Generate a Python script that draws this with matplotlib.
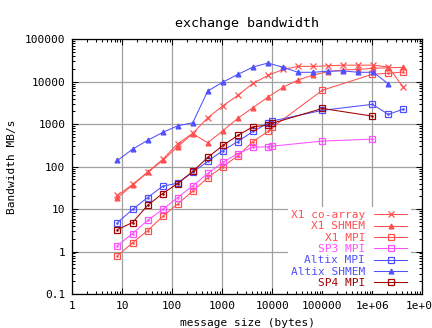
import matplotlib
matplotlib.use("Agg")
import matplotlib.pyplot as plt
from matplotlib.ticker import LogLocator, NullFormatter, FixedLocator, FixedFormatter

# message sizes (bytes)
sizes_pow2 = [2 ** k for k in range(3, 23)]          # 8 .. 4194304
sizes_mpi = [2 ** k for k in range(3, 14)] + [10000, 100000, 1000000]
sizes_mpi_long = sizes_mpi + [2097152, 4194304]

# bandwidth (MB/s)
x1_coarray = [21, 38, 74, 148, 345, 610, 1420, 2700, 4800, 9150, 14100, 19500,
              23000, 23000, 23700, 24600, 24600, 24600, 22200, 7400]
x1_shmem = [18.4, 36.6, 73, 140, 293, 600, 365, 700, 1380, 2450, 4350, 7400,
            11000, 14400, 17300, 19000, 19500, 20800, 21300, 21900]
x1_mpi = [0.8, 1.6, 3.1, 6.7, 13.2, 26.5, 55, 100, 180, 390, 675, 840,
          6300, 15000, 15800, 17000]
sp3_mpi = [1.38, 2.66, 5.4, 9.8, 18.7, 35.4, 69, 127, 204, 288, 293, 304, 400, 445]
altix_mpi = [4.8, 9.8, 18.7, 34.5, 40.8, 74, 133, 240, 390, 675, 1050, 1190,
             2120, 2940, 1700, 2270]
altix_shmem = [140, 258, 415, 640, 915, 1080, 6050, 9800, 14900, 22200, 27600,
               21900, 16700, 16700, 17800, 18000, 16700, 16700, 8900]
sp4_mpi = [3.3, 4.83, 12.2, 23.3, 40, 77, 165, 315, 545, 870, 950, 1050, 2350, 1550]

labels = ["X1 co-array", "X1 SHMEM", "X1 MPI", "SP3 MPI",
          "Altix MPI", "Altix SHMEM", "SP4 MPI"]

RED = "#ff5050"
MAG = "#ff50ff"
BLUE = "#5050ff"
DRED = "#a00000"

plt.rcParams["font.family"] = ["DejaVu Sans Mono"]
plt.rcParams["font.size"] = 8

fig = plt.figure(figsize=(4.32, 3.28), dpi=100)
ax = fig.add_axes([72.3 / 432, 1 - 294 / 328, 350 / 432, (294 - 39.3) / 328])

lw = 0.75
series = [
    (sizes_pow2, x1_coarray, RED, "x", 5, "full"),
    (sizes_pow2, x1_shmem, RED, "^", 3.5, "full"),
    (sizes_mpi_long, x1_mpi, RED, "s", 4.5, "none"),
    (sizes_mpi, sp3_mpi, MAG, "s", 4.5, "none"),
    (sizes_mpi_long, altix_mpi, BLUE, "s", 4.5, "none"),
    (sizes_pow2[:19], altix_shmem, BLUE, "^", 3.5, "full"),
    (sizes_mpi, sp4_mpi, DRED, "s", 4.5, "none"),
]
for (xs, ys, col, mk, ms, fill), lab in zip(series, labels):
    if fill == "none":
        ax.plot(xs, ys, color=col, lw=lw, marker=mk, ms=ms, mfc="none",
                mew=0.9, label=lab, zorder=3)
        ax.plot(xs, ys, ls="none", marker="s", ms=0.8, color=col, zorder=3)
    else:
        ax.plot(xs, ys, color=col, lw=lw, marker=mk, ms=ms, mew=0.9,
                label=lab, zorder=3)

ax.set_xscale("log")
ax.set_yscale("log")
ax.set_xlim(1, 1e7)
ax.set_ylim(0.1, 100000)

xt = [1, 10, 100, 1000, 10000, 100000, 1e6, 1e7]
ax.xaxis.set_major_locator(FixedLocator(xt))
ax.xaxis.set_major_formatter(FixedFormatter(["1", "10", "100", "1000", "10000",
                                             "100000", "1e+06", "1e+07"]))
yt = [0.1, 1, 10, 100, 1000, 10000, 100000]
ax.yaxis.set_major_locator(FixedLocator(yt))
ax.yaxis.set_major_formatter(FixedFormatter(["0.1", "1", "10", "100", "1000",
                                             "10000", "100000"]))
for a in (ax.xaxis, ax.yaxis):
    a.set_minor_locator(LogLocator(base=10, subs=range(2, 10), numticks=20))
    a.set_minor_formatter(NullFormatter())

ax.tick_params(which="both", direction="in", top=True, right=True,
               width=0.75, colors="black", pad=5)
ax.tick_params(which="major", length=4.5)
ax.tick_params(which="minor", length=2.5)
ax.grid(True, which="major", color="#a0a0a0", lw=0.9, zorder=0)
for s in ax.spines.values():
    s.set_linewidth(0.9)

ax.set_title("exchange bandwidth", pad=9)
ax.set_xlabel("message size (bytes)", labelpad=5)
ax.set_ylabel("Bandwidth MB/s", labelpad=6)

leg = ax.legend(loc="lower right", bbox_to_anchor=(1 - 6 / 350, -3 / 254.7),
                markerfirst=False, frameon=True,
                fancybox=False, edgecolor="none", facecolor="white",
                framealpha=1, labelcolor="linecolor", handlelength=3.0,
                handletextpad=0.8, labelspacing=0.12, borderpad=0.3,
                borderaxespad=0.5)
leg.set_zorder(5)

fig.savefig("out.png", dpi=100)
